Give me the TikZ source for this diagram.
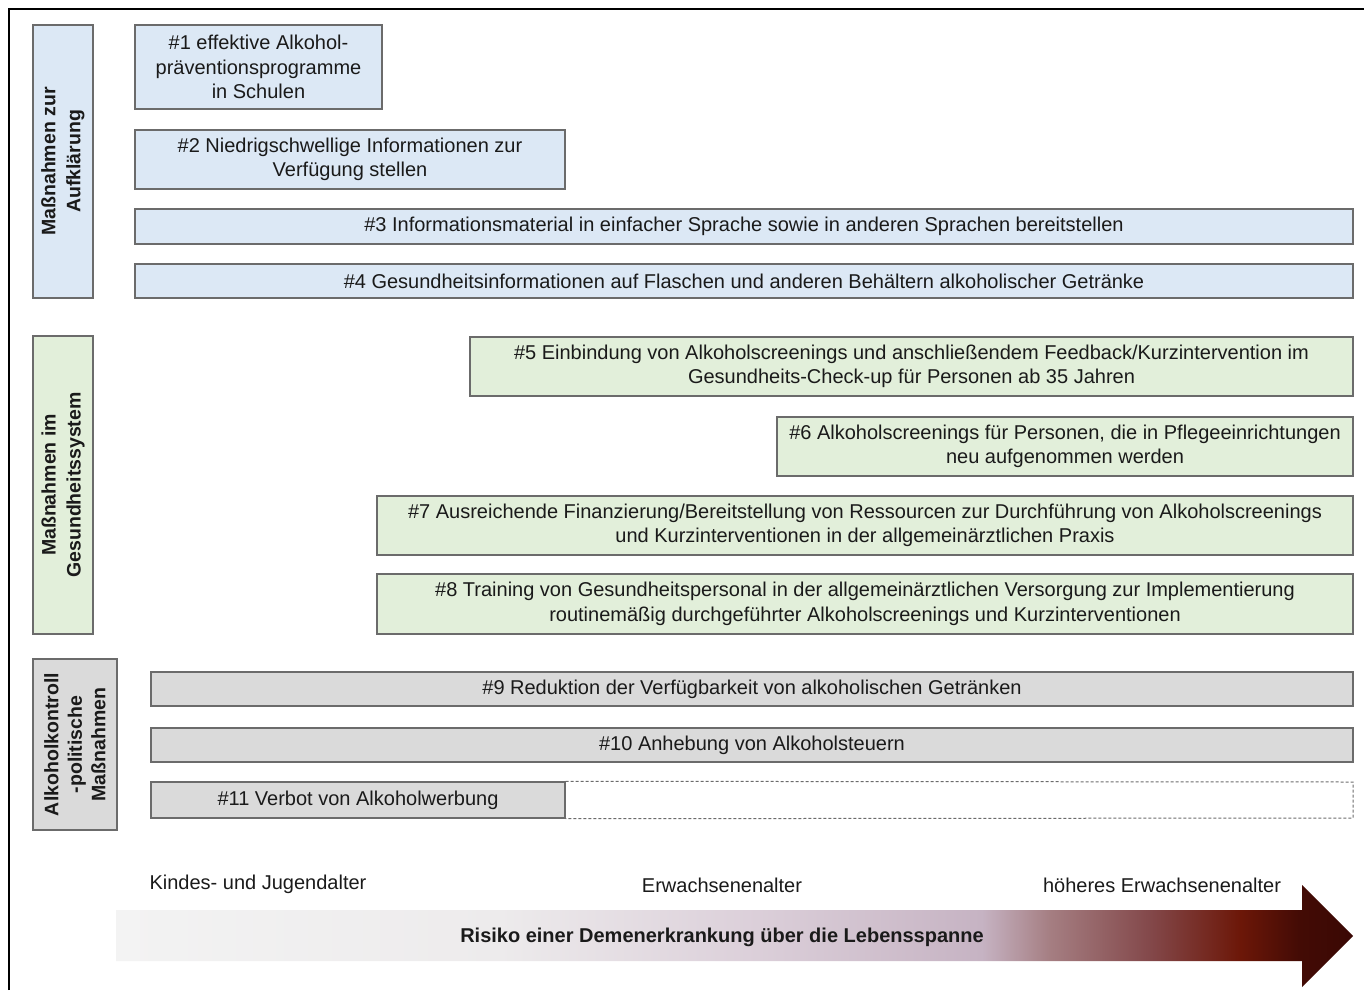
\documentclass[tikz,border=0pt]{standalone}
\usepackage{fontspec}
\setmainfont{Liberation Sans}
\definecolor{txt}{HTML}{1A1A1A}
\definecolor{bord}{HTML}{6B6B6B}
\definecolor{blueF}{HTML}{DCE8F5}
\definecolor{greenF}{HTML}{E2EFDA}
\definecolor{grayF}{HTML}{DADADA}
\definecolor{s0}{HTML}{F3F3F3}
\definecolor{s1}{HTML}{EDEBEC}
\definecolor{s2}{HTML}{DCD0DA}
\definecolor{s3}{HTML}{C6B3C3}
\definecolor{s4}{HTML}{A57E82}
\definecolor{s5}{HTML}{83484A}
\definecolor{s6}{HTML}{6C1708}
\definecolor{s7}{HTML}{430B05}
\definecolor{s8}{HTML}{3A0804}
\pgfdeclarehorizontalshading{riskshade}{100bp}{color(0bp)=(s0); color(25bp)=(s0); color(40.5bp)=(s1); color(50.5bp)=(s2); color(60bp)=(s3); color(62.75bp)=(s4); color(66.8bp)=(s5); color(70.45bp)=(s6); color(72.85bp)=(s7); color(75bp)=(s8); color(100bp)=(s8)}
\tikzset{
  mbox/.style={draw=bord, line width=1.4pt, inner sep=0pt, align=center, text=txt,
    font=\fontsize{20}{24.5}\selectfont},
  catbox/.style={draw=bord, line width=1.4pt, inner sep=0pt},
  cattext/.style={rotate=90, text=txt, align=center, inner sep=0pt},
  lbl/.style={inner sep=0pt, text=txt, font=\fontsize{20}{24}\selectfont},
}
\begin{document}
\begin{tikzpicture}[x=1pt,y=-1pt]
\useasboundingbox (0,0) rectangle (1364,990);
% outer frame
\draw[line width=2pt, black] (8.5,990) -- (8.5,9.5) -- (1364,9.5);

% category boxes
\node[catbox, fill=blueF, minimum width=60, minimum height=273] (c1) at (63,161.5) {};
\node[cattext, font=\bfseries\fontsize{19.5}{25}\selectfont] (c1t) at (c1.center) {Maßnahmen zur\\Aufklärung};
\node[catbox, fill=greenF, minimum width=60, minimum height=298] (c2) at (63,485) {};
\node[cattext, font=\bfseries\fontsize{19.5}{25}\selectfont] (c2t) at (c2.center) {Maßnahmen im\\Gesundheitssystem};
\node[catbox, fill=grayF, minimum width=84, minimum height=171] (c3) at (75,744.5) {};
\node[cattext, font=\bfseries\fontsize{19.5}{23.5}\selectfont] (c3t) at (c3.center) {Alkoholkontroll\\-politische\\Maßnahmen};

% blue rows
\node[mbox, fill=blueF, minimum width=247, minimum height=84] (m1) at (258.5,67) {\#1 effektive Alkohol-\\präventionsprogramme\\in Schulen};
\node[mbox, fill=blueF, minimum width=430, minimum height=59] (m2) at (350,159.5) {\#2 Niedrigschwellige Informationen zur\\Verfügung stellen};
\node[mbox, fill=blueF, minimum width=1218, minimum height=35] (m3) at (744,226.5) {\#3 Informationsmaterial in einfacher Sprache sowie in anderen Sprachen bereitstellen};
\node[mbox, fill=blueF, minimum width=1218, minimum height=34] (m4) at (744,281) {\#4 Gesundheitsinformationen auf Flaschen und anderen Behältern alkoholischer Getränke};

% green rows
\node[mbox, fill=greenF, minimum width=883, minimum height=59] (m5) at (911.5,366.5) {\#5 Einbindung von Alkoholscreenings und anschließendem Feedback/Kurzintervention im\\Gesundheits-Check-up für Personen ab 35 Jahren};
\node[mbox, fill=greenF, minimum width=576, minimum height=59] (m6) at (1065,446.5) {\#6 Alkoholscreenings für Personen, die in Pflegeeinrichtungen\\neu aufgenommen werden};
\node[mbox, fill=greenF, minimum width=976, minimum height=59] (m7) at (865,525.5) {\#7 Ausreichende Finanzierung/Bereitstellung von Ressourcen zur Durchführung von Alkoholscreenings\\und Kurzinterventionen in der allgemeinärztlichen Praxis};
\node[mbox, fill=greenF, minimum width=976, minimum height=60] (m8) at (865,604) {\#8 Training von Gesundheitspersonal in der allgemeinärztlichen Versorgung zur Implementierung\\routinemäßig durchgeführter Alkoholscreenings und Kurzinterventionen};

% gray rows
\node[mbox, fill=grayF, minimum width=1202, minimum height=34] (m9) at (752,689) {\#9 Reduktion der Verfügbarkeit von alkoholischen Getränken};
\node[mbox, fill=grayF, minimum width=1202, minimum height=34] (m10) at (752,745) {\#10 Anhebung von Alkoholsteuern};
\node[mbox, fill=grayF, minimum width=414, minimum height=36] (m11) at (358,800) {\#11 Verbot von Alkoholwerbung};
\coordinate (d1) at (1353,782);
\coordinate (d2) at (1353,818);
\draw[draw=bord, line width=1pt, dash pattern=on 3pt off 2pt] (m11.north east) -- (d1) -- (d2) -- (m11.south east);

% age labels
\node[lbl] (a1) at (258,884) {Kindes- und Jugendalter};
\node[lbl] (a2) at (722,885) {Erwachsenenalter};
\node[lbl] (a3) at (1162,885) {höheres Erwachsenenalter};

% arrow
\shade[shading=riskshade] (116,910) -- (1302,910) -- (1302,885) -- (1353,936) -- (1302,987) -- (1302,961) -- (116,961) -- cycle;
\node[lbl, font=\bfseries\fontsize{20}{24}\selectfont] (risk) at (722,937) {Risiko einer Demenerkrankung über die Lebensspanne};
\end{tikzpicture}
\end{document}
